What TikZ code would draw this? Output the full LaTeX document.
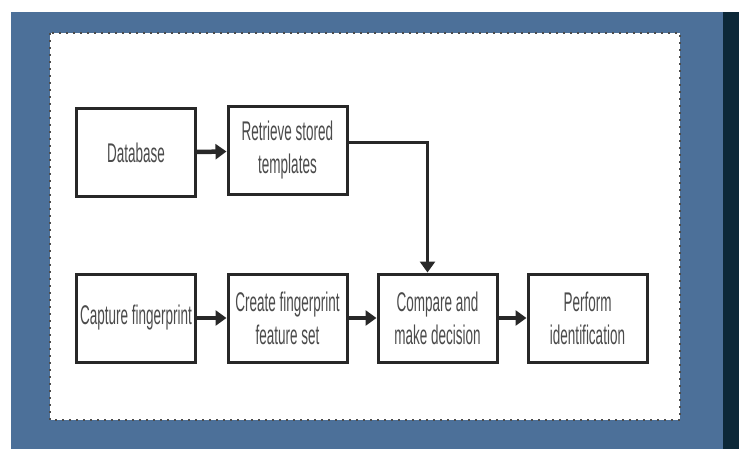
\documentclass[tikz,border=0pt]{standalone}
\usepackage{fontspec}
\usetikzlibrary{arrows.meta}
\newfontfamily\boxfont[FakeStretch=0.5]{Liberation Sans}
\definecolor{slideblue}{RGB}{76,112,153}
\definecolor{slidedark}{RGB}{12,40,56}
\definecolor{boxline}{RGB}{40,40,40}
\definecolor{boxtext}{RGB}{75,75,75}
\tikzset{
	stage/.style={draw=boxline,line width=3pt,fill=white,minimum width=119pt,minimum height=88pt,
		inner sep=2pt,align=center,text=boxtext,font=\boxfont\fontsize{27}{33}\selectfont},
	flow/.style={-{Triangle[length=11pt,width=15pt]},line width=4.5pt,color=boxline}
}
\begin{document}
\begin{tikzpicture}[x=1pt,y=-1pt]
		\useasboundingbox (0,0) rectangle (739,449);
		\fill[white] (0,0) rectangle (739,449);
		\fill[slideblue] (11,12) rectangle (739,449);
		\fill[slidedark] (723,12) rectangle (739,449);
		
		\filldraw[fill=white,draw=gray!60!black,line width=2.5pt,dash pattern=on 2pt off 5pt] (50,33) rectangle (680,420);
		
		\node[stage] (database) at (136,153) {Database};
		\node[stage] (retrieve) at (287.5,150.5) {Retrieve stored\\templates};
		
		\node[stage] (capture) at (136,318) {Capture fingerprint};
		\node[stage] (create) at (287.5,318) {Create fingerprint\\feature set};
		\node[stage] (compare) at (437.5,318) {Compare and\\make decision};
		\node[stage] (perform) at (587.5,318) {Perform\\identification};
		
		\draw[flow] (database) -- (retrieve);
		\draw[flow] (capture) -- (create);
		\draw[flow] (create) -- (compare);
		\draw[flow] (compare) -- (perform);
		\draw[flow,line width=3.5pt] ([yshift=8pt]retrieve.east) -| ([xshift=-10pt]compare.north);
	\end{tikzpicture}
\end{document}
